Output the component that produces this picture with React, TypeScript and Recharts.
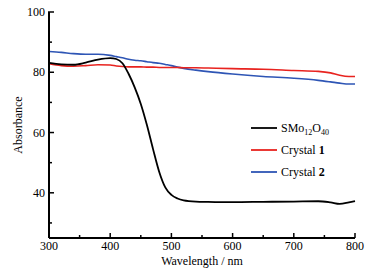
import { LineChart, Line, XAxis, YAxis } from 'recharts';

const wavelengths = [300, 320, 340, 360, 380, 400, 410, 420, 430, 440, 450, 460, 470, 480, 490, 500, 510, 520, 540, 560, 600, 650, 700, 740, 760, 775, 790, 800];
const smoValues = [83.1, 82.6, 82.5, 83.2, 84.2, 84.7, 84.4, 83.0, 79.5, 75.0, 69.5, 62.5, 54.5, 47.0, 41.8, 39.3, 38.1, 37.5, 37.1, 37.0, 36.9, 37.0, 37.1, 37.2, 36.8, 36.3, 36.8, 37.2];
const crystal1Values = [82.8, 82.2, 82.0, 82.2, 82.5, 82.4, 82.1, 81.9, 81.8, 81.8, 81.8, 81.7, 81.7, 81.6, 81.6, 81.6, 81.6, 81.5, 81.5, 81.4, 81.2, 81.0, 80.6, 80.3, 79.8, 79.0, 78.6, 78.6];
const crystal2Values = [86.9, 86.6, 86.2, 86.0, 86.0, 85.6, 85.2, 84.8, 84.3, 84.0, 83.8, 83.5, 83.2, 83.0, 82.6, 82.2, 81.7, 81.3, 80.7, 80.2, 79.4, 78.6, 78.0, 77.3, 76.8, 76.4, 76.1, 76.1];

const xTicks = [300, 350, 400, 450, 500, 550, 600, 650, 700, 750, 800];
const yTicks = [30, 40, 50, 60, 70, 80, 90, 100];

const data = wavelengths.map((w, i) => ({
  w,
  smo: smoValues[i],
  c1: crystal1Values[i],
  c2: crystal2Values[i],
}));

const font = '"Liberation Serif", "Times New Roman", serif';

const XTick = ({ x, y, payload }: any) => {
  const major = payload.value % 100 === 0;
  return (
    <g>
      <line x1={x} x2={x} y1={y} y2={y - (major ? 5 : 3)} stroke="#000" strokeWidth={1.5} />
      {major && (
        <text x={x} y={y + 12} textAnchor="middle" fontSize={12} fontFamily={font} fill="#000">
          {payload.value}
        </text>
      )}
    </g>
  );
};

const YTick = ({ x, y, payload }: any) => {
  const major = payload.value % 20 === 0;
  return (
    <g>
      <line x1={x - (major ? 1 : 0)} x2={x + (major ? 5 : 3)} y1={y} y2={y} stroke="#000" strokeWidth={1.5} />
      {major && (
        <text x={x - 4} y={y + 4} textAnchor="end" fontSize={12} fontFamily={font} fill="#000">
          {payload.value}
        </text>
      )}
    </g>
  );
};

const legendItems = [
  { key: 'smo', color: '#000000', label: <>SMo<tspan fontSize={8} dy={3}>12</tspan><tspan dy={-3}>O</tspan><tspan fontSize={8} dy={3}>40</tspan></> },
  { key: 'c1', color: '#e8231f', label: <>Crystal <tspan fontWeight="bold">1</tspan></> },
  { key: 'c2', color: '#2e55b5', label: <>Crystal <tspan fontWeight="bold">2</tspan></> },
];

export default function App() {
  return (
    <div style={{ position: 'absolute', left: 0, top: 0, width: 378, height: 273, background: '#fff', fontFamily: font }}>
      <LineChart width={378} height={273} data={data} margin={{ top: 12, right: 23, bottom: 0, left: 0 }} style={{ fontFamily: font }}>
        <XAxis
          dataKey="w"
          type="number"
          domain={[300, 800]}
          ticks={xTicks}
          tick={<XTick />}
          tickSize={0}
          tickMargin={0}
          tickLine={false}
          height={35}
          stroke="#000"
          strokeWidth={2}
          interval={0}
          label={{ value: 'Wavelength / nm', position: 'insideBottom', offset: 8, fontSize: 12, fontFamily: font, fill: '#000' }}
        />
        <YAxis
          type="number"
          domain={[25, 100]}
          ticks={yTicks}
          tick={<YTick />}
          tickSize={0}
          tickMargin={0}
          tickLine={false}
          width={49}
          stroke="#000"
          strokeWidth={2}
          interval={0}
          label={{ value: 'Absorbance', angle: -90, position: 'insideLeft', offset: 18, fontSize: 12, fontFamily: font, fill: '#000', style: { textAnchor: 'middle' } }}
        />
        <Line type="monotone" dataKey="c2" stroke="#2e55b5" strokeWidth={1.6} dot={false} isAnimationActive={false} />
        <Line type="monotone" dataKey="c1" stroke="#e8231f" strokeWidth={1.6} dot={false} isAnimationActive={false} />
        <Line type="monotone" dataKey="smo" stroke="#000000" strokeWidth={1.8} dot={false} isAnimationActive={false} />
      </LineChart>
      <svg width={120} height={62} style={{ position: 'absolute', left: 249, top: 120 }}>
        {legendItems.map((it, i) => (
          <g key={it.key} transform={`translate(0, ${i * 22 + 8})`}>
            <line x1={2} x2={28} y1={0} y2={0} stroke={it.color} strokeWidth={1.8} />
            <text x={32} y={4} fontSize={12} fontFamily={font} fill="#000">{it.label}</text>
          </g>
        ))}
      </svg>
    </div>
  );
}
